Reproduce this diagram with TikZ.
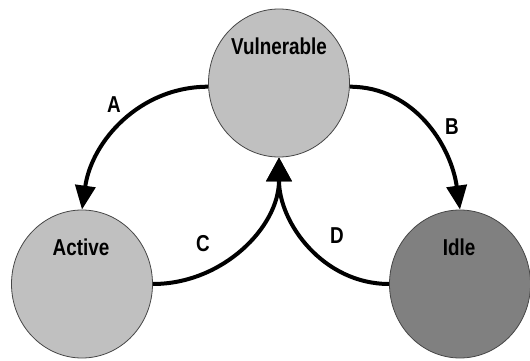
\documentclass[tikz,border=0pt]{standalone}
\usepackage{fontspec}
\setmainfont{Liberation Sans}[FakeStretch=0.82]
\usetikzlibrary{arrows.meta,shapes.geometric}
\definecolor{lightg}{RGB}{192,192,192}
\definecolor{darkg}{RGB}{128,128,128}
\definecolor{rim}{RGB}{70,70,70}
\begin{document}
\begin{tikzpicture}[x=1pt,y=1pt,
  state/.style={ellipse, draw=rim, line width=0.8pt, minimum width=141pt, minimum height=148pt, inner sep=0pt},
  lbl/.style={font=\fontsize{23}{23}\selectfont\bfseries, inner sep=0pt},
  conn/.style={line width=4pt, -{Triangle[length=24pt,width=20pt]}},
  bigconn/.style={line width=4pt, -{Triangle[length=24pt,width=25pt]}}]
\useasboundingbox (0,0) rectangle (530,360);
\node[state, fill=lightg] (V) at (279,277) {};
\node[state, fill=lightg] (Ac) at (82,76) {};
\node[state, fill=darkg] (I) at (460,76) {};
\node[lbl, anchor=base] (vt) at (279,306) {Vulnerable};
\node[lbl, anchor=base] (at) at (81,105) {Active};
\node[lbl, anchor=base] (it) at (459,105) {Idle};
\node[lbl] (la) at (114,255) {A};
\node[lbl] (lb) at (452,233) {B};
\node[lbl] (lc) at (203,116) {C};
\node[lbl] (ld) at (337,124) {D};
\draw[conn] (V.183) to[out=180,in=82] (Ac.north);
\draw[conn] (V.-3) to[out=0,in=98] (I.north);
\draw[bigconn] (Ac.east) to[out=0,in=-90] (V.south);
\draw[bigconn] (I.west) to[out=180,in=-90] (V.south);
\end{tikzpicture}
\end{document}
